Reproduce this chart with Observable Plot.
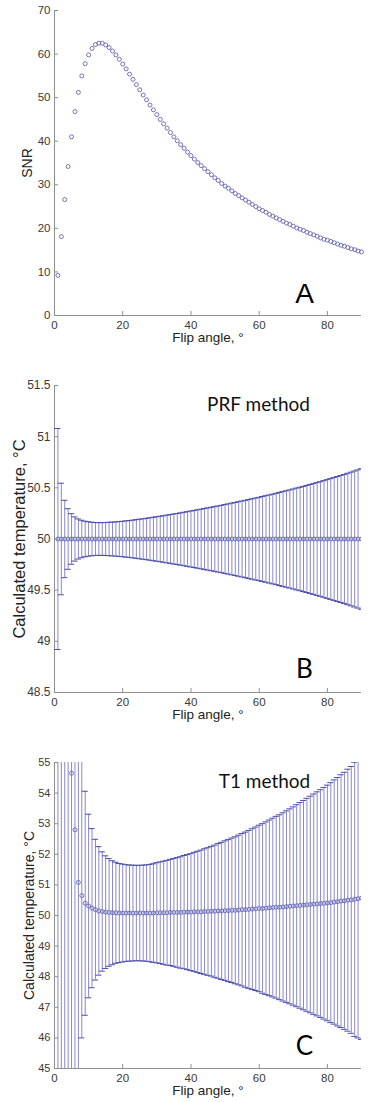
<!DOCTYPE html>
<html>
<head>
<meta charset="utf-8">
<script src="https://cdn.jsdelivr.net/npm/d3@7"></script>
<script src="https://cdn.jsdelivr.net/npm/@observablehq/plot@0.6"></script>
<style>
  html, body { margin: 0; padding: 0; background: #fff; }
  #chart { width: 369px; }
  #chart svg { display: block; }
</style>
</head>
<body>
<div id="chart"></div>
<script>
// ---------- data ----------
const flipAngle = [1,2,3,4,5,6,7,8,9,10,11,12,13,14,15,16,17,18,19,20,21,22,23,24,25,26,27,28,29,30,
  31,32,33,34,35,36,37,38,39,40,41,42,43,44,45,46,47,48,49,50,51,52,53,54,55,56,57,58,59,60,
  61,62,63,64,65,66,67,68,69,70,71,72,73,74,75,76,77,78,79,80,81,82,83,84,85,86,87,88,89,90];

const snr = [9.2,18.1,26.6,34.2,41.0,46.8,51.2,55.0,57.8,59.8,61.3,62.2,62.5,62.5,62.1,61.5,60.7,59.8,58.8,57.7,
  56.6,55.4,54.2,53.0,51.8,50.6,49.5,48.3,47.2,46.1,45.0,44.0,43.0,42.0,41.0,40.1,39.2,38.4,37.5,36.7,
  35.9,35.1,34.4,33.7,33.0,32.3,31.6,31.0,30.3,29.7,29.2,28.6,28.0,27.5,27.0,26.5,26.0,25.5,25.0,24.5,
  24.1,23.7,23.2,22.8,22.4,22.0,21.6,21.2,20.9,20.5,20.1,19.8,19.5,19.1,18.8,18.5,18.2,17.8,17.5,17.3,
  17.0,16.7,16.4,16.1,15.9,15.6,15.3,15.1,14.8,14.6];

const prfMean = [50,50,50,50,50,50,50,50,50,50,50,50,50,50,50,50,50,50,50,50,50,50,50,50,50,50,50,50,50,50,
  50,50,50,50,50,50,50,50,50,50,50,50,50,50,50,50,50,50,50,50,50,50,50,50,50,50,50,50,50,50,
  50,50,50,50,50,50,50,50,50,50,50,50,50,50,50,50,50,50,50,50,50,50,50,50,50,50,50,50,50,50];

const prfHalfWidth = [1.08,0.545,0.378,0.296,0.247,0.216,0.196,0.183,0.174,0.168,0.164,0.161,0.160,0.160,0.161,0.163,0.165,0.167,0.170,0.173,
  0.177,0.180,0.184,0.189,0.193,0.197,0.202,0.207,0.212,0.217,0.222,0.227,0.233,0.238,0.244,0.249,0.255,0.261,0.267,0.273,
  0.279,0.285,0.291,0.297,0.304,0.310,0.316,0.323,0.329,0.336,0.343,0.350,0.357,0.364,0.371,0.378,0.385,0.393,0.400,0.407,
  0.415,0.423,0.430,0.438,0.446,0.455,0.463,0.471,0.479,0.488,0.497,0.505,0.514,0.523,0.532,0.541,0.551,0.560,0.570,0.580,
  0.590,0.600,0.610,0.620,0.631,0.642,0.653,0.664,0.675,0.687];

const t1Mean = [118,82,66,58.7,54.65,52.8,51.08,50.65,50.40,50.31,50.24,50.19,50.15,50.13,50.11,50.10,50.09,50.09,50.08,50.08,
  50.08,50.08,50.08,50.08,50.08,50.08,50.08,50.08,50.08,50.09,50.09,50.09,50.09,50.10,50.10,50.10,50.10,50.11,50.11,50.11,
  50.12,50.12,50.12,50.13,50.13,50.14,50.14,50.15,50.15,50.16,50.16,50.17,50.17,50.18,50.19,50.19,50.20,50.21,50.22,50.23,
  50.23,50.24,50.25,50.26,50.27,50.27,50.28,50.29,50.30,50.31,50.32,50.33,50.34,50.35,50.36,50.37,50.38,50.39,50.40,50.41,
  50.42,50.44,50.45,50.47,50.48,50.50,50.51,50.53,50.55,50.57];

const t1HalfWidth = [100,50,30,20,13,9.0,6.3,4.65,3.66,3.0,2.6,2.3,2.1,1.95,1.84,1.76,1.70,1.65,1.62,1.60,
  1.58,1.57,1.565,1.56,1.56,1.565,1.575,1.59,1.61,1.635,1.66,1.685,1.71,1.735,1.76,1.79,1.82,1.85,1.88,1.91,
  1.945,1.98,2.015,2.05,2.085,2.12,2.16,2.20,2.24,2.28,2.32,2.36,2.40,2.445,2.49,2.535,2.58,2.625,2.67,2.72,
  2.77,2.82,2.87,2.92,2.97,3.02,3.075,3.13,3.185,3.24,3.30,3.36,3.42,3.48,3.54,3.60,3.66,3.72,3.785,3.85,
  3.92,3.99,4.06,4.13,4.20,4.28,4.36,4.48,4.55,4.62];

const xTicks = [0, 20, 40, 60, 80];
const snrTicks = [0, 10, 20, 30, 40, 50, 60, 70];
const prfTicks = [48.5, 49, 49.5, 50, 50.5, 51, 51.5];
const t1Ticks = [45, 46, 47, 48, 49, 50, 51, 52, 53, 54, 55];

const xLabel = "Flip angle, °";
const snrLabel = "SNR";
const tempLabel = "Calculated temperature, °C";
const prfNote = "PRF method";
const t1Note = "T1 method";
const panelLetters = ["A", "B", "C"];

// ---------- styling ----------
const SANS = "'Liberation Sans', Arial, sans-serif";
const CAL = "Lato, 'Open Sans', sans-serif";
const AXIS = "#8f8f8f";
const TXT = "#3a3a3a";
const MARK = "#6464b4";
const BAR = "#7a7ac8";
const CAP = "#4c4caa";

const snrRows = flipAngle.map((a, i) => ({angle: a, value: snr[i]}));
const prfRows = flipAngle.map((a, i) => ({angle: a, mean: prfMean[i], hw: prfHalfWidth[i]}));
const t1Rows = flipAngle.map((a, i) => ({angle: a, mean: t1Mean[i], hw: t1HalfWidth[i]}));

function errorMarks(rows) {
  return [
    Plot.ruleX(rows, {x: "angle", y1: d => d.mean - d.hw, y2: d => d.mean + d.hw, stroke: BAR, strokeWidth: 0.9, clip: true}),
    Plot.ruleY(rows, {y: d => d.mean + d.hw, x1: d => d.angle - 0.9, x2: d => d.angle + 0.9, stroke: CAP, strokeWidth: 1, clip: true}),
    Plot.ruleY(rows, {y: d => d.mean - d.hw, x1: d => d.angle - 0.9, x2: d => d.angle + 0.9, stroke: CAP, strokeWidth: 1, clip: true}),
    Plot.dot(rows, {x: "angle", y: "mean", r: 2, stroke: MARK, strokeWidth: 0.9, fill: "none", clip: true})
  ];
}

function panel({height, marginTop, marginBottom, yDomain, yTicks, yFont, yLabel, yLabelDx, yLabelSize, xLabelDy, note, noteDx, letter, marks}) {
  const m = [
    Plot.ruleX([0], {stroke: AXIS, strokeWidth: 1}),
    Plot.ruleY([yDomain[0]], {stroke: AXIS, strokeWidth: 1}),
    Plot.axisX(xTicks, {tickSize: -4, tickPadding: 9, stroke: AXIS, fill: TXT, fontSize: 11.5, label: null, tickFormat: d => `${d}`}),
    Plot.axisY(yTicks, {tickSize: -4, tickPadding: 8, stroke: AXIS, fill: TXT, fontSize: yFont, label: null, tickFormat: d => `${d}`}),
    ...marks,
    Plot.text([xLabel], {frameAnchor: "bottom", dy: xLabelDy, fontSize: 13.5, fill: "#222", textAnchor: "middle", lineAnchor: "middle"}),
    Plot.text([yLabel], {frameAnchor: "left", dx: yLabelDx, rotate: -90, fontSize: yLabelSize, fill: "#222", textAnchor: "middle", lineAnchor: "middle"}),
    Plot.text([letter.text], {frameAnchor: "top-left", dx: 250, dy: 284, fontSize: letter.size, fontFamily: letter.font, fill: "#000", textAnchor: "middle", lineAnchor: "middle"})
  ];
  if (note) m.push(Plot.text([note], {frameAnchor: "top-left", dx: noteDx, dy: 19, fontSize: 19, fontFamily: CAL, fill: "#111", textAnchor: "middle", lineAnchor: "middle"}));
  return Plot.plot({
    width: 369, height, marginLeft: 54, marginRight: 8, marginTop, marginBottom,
    style: {fontFamily: SANS, background: "#fff", color: TXT},
    x: {domain: [0, 90]},
    y: {domain: yDomain},
    marks: m
  });
}

const root = document.getElementById("chart");

root.append(panel({
  height: 360, marginTop: 10, marginBottom: 45,
  yDomain: [0, 70], yTicks: snrTicks, yFont: 11.5,
  yLabel: snrLabel, yLabelDx: -27, yLabelSize: 14, xLabelDy: 22,
  letter: {text: panelLetters[0], size: 28, font: SANS},
  marks: [Plot.dot(snrRows, {x: "angle", y: "value", r: 2, stroke: MARK, strokeWidth: 0.9, fill: "none"})]
}));

root.append(panel({
  height: 370, marginTop: 25, marginBottom: 38,
  yDomain: [48.5, 51.5], yTicks: prfTicks, yFont: 12,
  yLabel: tempLabel, yLabelDx: -35, yLabelSize: 16.5, xLabelDy: 22,
  note: prfNote, noteDx: 204,
  letter: {text: panelLetters[1], size: 26, font: CAL},
  marks: errorMarks(prfRows)
}));

root.append(panel({
  height: 372, marginTop: 32, marginBottom: 34,
  yDomain: [45, 55], yTicks: t1Ticks, yFont: 11,
  yLabel: tempLabel, yLabelDx: -25, yLabelSize: 14, xLabelDy: 22,
  note: t1Note, noteDx: 210,
  letter: {text: panelLetters[2], size: 26, font: CAL},
  marks: errorMarks(t1Rows)
}));
</script>
</body>
</html>
